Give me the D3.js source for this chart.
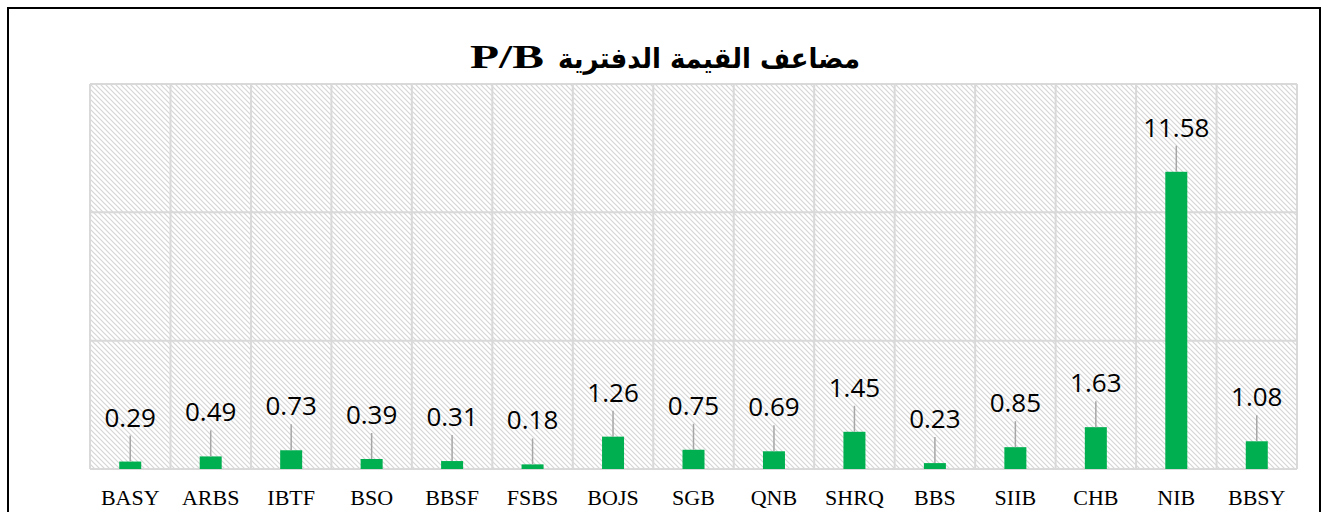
<!DOCTYPE html>
<html>
<head>
<meta charset="utf-8">
<script src="https://cdn.jsdelivr.net/npm/d3@7"></script>
<style>
  body { margin: 0; background: #fff; }
</style>
</head>
<body>
<svg id="chart" width="1322" height="512"></svg>
<script>
const banks = ['BASY', 'ARBS', 'IBTF', 'BSO', 'BBSF', 'FSBS', 'BOJS', 'SGB', 'QNB', 'SHRQ', 'BBS', 'SIIB', 'CHB', 'NIB', 'BBSY'];
const pbValues = [0.29, 0.49, 0.73, 0.39, 0.31, 0.18, 1.26, 0.75, 0.69, 1.45, 0.23, 0.85, 1.63, 11.58, 1.08];
const yTicks = [0, 5, 10, 15];
const titleArabic = 'مضاعف القيمة الدفترية';
const titleLatin = 'P/B';

const svg = d3.select('#chart');
const width = +svg.attr('width');
const height = +svg.attr('height');
const margin = { top: 84, right: 25, bottom: 43, left: 90 };
const innerWidth = width - margin.left - margin.right;
const innerHeight = height - margin.top - margin.bottom;
const barWidth = 22;

// hatch fill like the excel plot area
const defs = svg.append('defs');
const pat = defs.append('pattern')
  .attr('id', 'hatch')
  .attr('patternUnits', 'userSpaceOnUse')
  .attr('width', 5)
  .attr('height', 5);
pat.append('rect').attr('width', 5).attr('height', 5).attr('fill', '#fff');
pat.append('path')
  .attr('d', 'M-1,-1 L6,6 M-1,4 L1,6 M4,-1 L6,1')
  .attr('stroke', '#d6d6d6')
  .attr('stroke-width', 1.2);

// outer frame (bottom edge falls outside the picture, as in the original)
svg.append('path')
  .attr('d', `M8,${height} V8 H1320 V${height}`)
  .attr('fill', 'none')
  .attr('stroke', '#000')
  .attr('stroke-width', 2);

const x = d3.scaleBand()
  .domain(banks)
  .range([0, innerWidth])
  .padding(0);

const y = d3.scaleLinear()
  .domain([0, d3.max(yTicks)])
  .range([innerHeight, 0]);

const g = svg.append('g')
  .attr('transform', `translate(${margin.left},${margin.top})`);

g.append('rect')
  .attr('width', innerWidth)
  .attr('height', innerHeight)
  .attr('fill', 'url(#hatch)');

// horizontal grid
g.append('g')
  .selectAll('line')
  .data(yTicks)
  .join('line')
  .attr('x1', 0).attr('x2', innerWidth)
  .attr('y1', d => y(d)).attr('y2', d => y(d))
  .attr('stroke', '#d9d9d9')
  .attr('stroke-width', 2);

// vertical grid at category boundaries
const bounds = banks.map(b => x(b)).concat([innerWidth]);
g.append('g')
  .selectAll('line')
  .data(bounds)
  .join('line')
  .attr('x1', d => d).attr('x2', d => d)
  .attr('y1', 0).attr('y2', innerHeight)
  .attr('stroke', '#d9d9d9')
  .attr('stroke-width', 2);

// bars
g.append('g')
  .selectAll('rect')
  .data(pbValues)
  .join('rect')
  .attr('x', (d, i) => x(banks[i]) + (x.bandwidth() - barWidth) / 2)
  .attr('y', d => y(d))
  .attr('width', barWidth)
  .attr('height', d => innerHeight - y(d))
  .attr('fill', '#00b050');

// leader lines + labels
const labelLift = 44;
g.append('g')
  .selectAll('line')
  .data(pbValues)
  .join('line')
  .attr('x1', (d, i) => x(banks[i]) + x.bandwidth() / 2)
  .attr('x2', (d, i) => x(banks[i]) + x.bandwidth() / 2)
  .attr('y1', d => y(d))
  .attr('y2', d => y(d) - labelLift + 18)
  .attr('stroke', '#a6a6a6')
  .attr('stroke-width', 1.5);

g.append('g')
  .selectAll('text')
  .data(pbValues)
  .join('text')
  .attr('x', (d, i) => x(banks[i]) + x.bandwidth() / 2)
  .attr('y', d => y(d) - labelLift + 9)
  .attr('text-anchor', 'middle')
  .style('font-family', '"Open Sans", sans-serif')
  .style('font-size', '26px')
  .style('fill', '#000')
  .text(d => d.toFixed(2));

// category labels
g.append('g')
  .selectAll('text')
  .data(banks)
  .join('text')
  .attr('x', d => x(d) + x.bandwidth() / 2)
  .attr('y', innerHeight + 36)
  .attr('text-anchor', 'middle')
  .style('font-family', '"Liberation Serif", serif')
  .style('font-size', '22px')
  .style('fill', '#000')
  .text(d => d);

// title: latin part on the left, arabic on the right
svg.append('text')
  .attr('x', 470)
  .attr('y', 68)
  .attr('text-anchor', 'start')
  .style('font-family', '"Liberation Serif", serif')
  .style('font-weight', 'bold')
  .style('font-size', '34px')
  .attr('textLength', 74)
  .attr('lengthAdjust', 'spacingAndGlyphs')
  .text(titleLatin);
svg.append('text')
  .attr('x', 860)
  .attr('y', 68)
  .attr('text-anchor', 'end')
  .style('font-family', '"DejaVu Sans", sans-serif')
  .style('font-weight', 'bold')
  .style('font-size', '28px')
  .attr('textLength', 302)
  .attr('lengthAdjust', 'spacingAndGlyphs')
  .text(titleArabic);
</script>
</body>
</html>
